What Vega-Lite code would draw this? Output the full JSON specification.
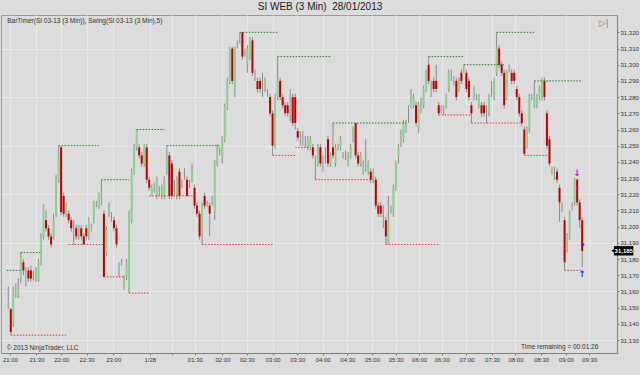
{
  "$schema": "https://vega.github.io/schema/vega-lite/v6.json",
  "width": 616,
  "height": 338,
  "autosize": {"type": "none"},
  "padding": {"left": 1, "top": 15, "right": 23, "bottom": 22},
  "background": "#dcdcdc",
  "title": {"text": "SI WEB (3 Min)\u00a0 28/01/2013", "fontSize": 10, "font": "Liberation Sans", "fontWeight": "normal", "color": "#1a1a1a", "anchor": "middle", "offset": 3, "dx": 11},
  "config": {
    "view": {"stroke": "#9a9a9a", "fill": "#dcdcdc"},
    "axis": {"labelOverlap": false, "labelBound": false, "labelFlush": false, "labelSeparation": 0, "tickCount": 1000,
             "tickColor": "#808080", "tickSize": 2, "domainColor": "#808080", "gridColor": "#e8e8e8",
             "labelFontSize": 6, "labelFont": "Liberation Sans", "labelColor": "#333333", "labelPadding": 1, "title": null}
  },
  "datasets": {
    "bars": [
      {"i":0,"o":31155,"h":31163,"l":31149,"c":31155},
      {"i":1,"o":31149,"h":31150,"l":31133,"c":31135},
      {"i":2,"o":31140,"h":31163,"l":31138,"c":31158},
      {"i":3,"o":31160,"h":31165,"l":31156,"c":31160},
      {"i":4,"o":31158,"h":31168,"l":31156,"c":31163},
      {"i":5,"o":31168,"h":31184,"l":31165,"c":31182},
      {"i":6,"o":31178,"h":31180,"l":31170,"c":31173},
      {"i":7,"o":31172,"h":31175,"l":31163,"c":31172},
      {"i":8,"o":31173,"h":31175,"l":31166,"c":31168},
      {"i":9,"o":31173,"h":31176,"l":31166,"c":31168},
      {"i":10,"o":31170,"h":31173,"l":31167,"c":31170},
      {"i":11,"o":31168,"h":31175,"l":31166,"c":31173},
      {"i":12,"o":31168,"h":31180,"l":31166,"c":31178},
      {"i":13,"o":31178,"h":31196,"l":31176,"c":31194},
      {"i":14,"o":31194,"h":31214,"l":31192,"c":31213},
      {"i":15,"o":31204,"h":31210,"l":31197,"c":31199},
      {"i":16,"o":31199,"h":31201,"l":31192,"c":31194},
      {"i":17,"o":31194,"h":31196,"l":31187,"c":31189},
      {"i":18,"o":31194,"h":31208,"l":31192,"c":31204},
      {"i":19,"o":31208,"h":31232,"l":31206,"c":31229},
      {"i":20,"o":31229,"h":31250,"l":31227,"c":31245},
      {"i":21,"o":31249,"h":31250,"l":31207,"c":31209},
      {"i":22,"o":31219,"h":31221,"l":31206,"c":31208},
      {"i":23,"o":31208,"h":31215,"l":31206,"c":31213},
      {"i":24,"o":31208,"h":31210,"l":31202,"c":31204},
      {"i":25,"o":31204,"h":31206,"l":31197,"c":31199},
      {"i":26,"o":31200,"h":31204,"l":31189,"c":31200},
      {"i":27,"o":31199,"h":31201,"l":31192,"c":31194},
      {"i":28,"o":31194,"h":31201,"l":31192,"c":31199},
      {"i":29,"o":31199,"h":31201,"l":31192,"c":31194},
      {"i":30,"o":31194,"h":31196,"l":31189,"c":31189},
      {"i":31,"o":31199,"h":31201,"l":31192,"c":31194},
      {"i":32,"o":31194,"h":31206,"l":31192,"c":31204},
      {"i":33,"o":31199,"h":31202,"l":31197,"c":31199},
      {"i":34,"o":31204,"h":31216,"l":31202,"c":31214},
      {"i":35,"o":31214,"h":31216,"l":31212,"c":31214},
      {"i":36,"o":31213,"h":31221,"l":31211,"c":31219},
      {"i":37,"o":31215,"h":31229,"l":31213,"c":31215},
      {"i":38,"o":31208,"h":31210,"l":31169,"c":31169},
      {"i":39,"o":31184,"h":31200,"l":31182,"c":31198},
      {"i":40,"o":31208,"h":31215,"l":31206,"c":31213},
      {"i":41,"o":31206,"h":31209,"l":31203,"c":31206},
      {"i":42,"o":31204,"h":31206,"l":31197,"c":31199},
      {"i":43,"o":31199,"h":31201,"l":31187,"c":31189},
      {"i":44,"o":31175,"h":31178,"l":31169,"c":31175},
      {"i":45,"o":31178,"h":31180,"l":31176,"c":31178},
      {"i":46,"o":31163,"h":31170,"l":31161,"c":31168},
      {"i":47,"o":31169,"h":31180,"l":31167,"c":31178},
      {"i":48,"o":31159,"h":31210,"l":31159,"c":31208},
      {"i":49,"o":31204,"h":31236,"l":31202,"c":31234},
      {"i":50,"o":31234,"h":31251,"l":31232,"c":31249},
      {"i":51,"o":31249,"h":31260,"l":31247,"c":31260},
      {"i":52,"o":31249,"h":31251,"l":31242,"c":31244},
      {"i":53,"o":31244,"h":31246,"l":31237,"c":31239},
      {"i":54,"o":31239,"h":31251,"l":31237,"c":31249},
      {"i":55,"o":31249,"h":31251,"l":31227,"c":31229},
      {"i":56,"o":31229,"h":31231,"l":31222,"c":31224},
      {"i":57,"o":31219,"h":31226,"l":31219,"c":31224},
      {"i":58,"o":31224,"h":31227,"l":31221,"c":31224},
      {"i":59,"o":31219,"h":31231,"l":31217,"c":31229},
      {"i":60,"o":31222,"h":31225,"l":31219,"c":31222},
      {"i":61,"o":31219,"h":31226,"l":31217,"c":31224},
      {"i":62,"o":31219,"h":31231,"l":31217,"c":31229},
      {"i":63,"o":31234,"h":31250,"l":31232,"c":31244},
      {"i":64,"o":31244,"h":31246,"l":31217,"c":31219},
      {"i":65,"o":31239,"h":31241,"l":31217,"c":31219},
      {"i":66,"o":31224,"h":31229,"l":31219,"c":31224},
      {"i":67,"o":31219,"h":31231,"l":31217,"c":31229},
      {"i":68,"o":31234,"h":31236,"l":31217,"c":31219},
      {"i":69,"o":31227,"h":31229,"l":31224,"c":31227},
      {"i":70,"o":31234,"h":31236,"l":31229,"c":31234},
      {"i":71,"o":31229,"h":31231,"l":31219,"c":31219},
      {"i":72,"o":31227,"h":31229,"l":31224,"c":31227},
      {"i":73,"o":31229,"h":31239,"l":31227,"c":31234},
      {"i":74,"o":31224,"h":31226,"l":31211,"c":31213},
      {"i":75,"o":31213,"h":31215,"l":31206,"c":31208},
      {"i":76,"o":31208,"h":31210,"l":31192,"c":31194},
      {"i":77,"o":31199,"h":31215,"l":31189,"c":31213},
      {"i":78,"o":31219,"h":31221,"l":31211,"c":31213},
      {"i":79,"o":31214,"h":31216,"l":31212,"c":31214},
      {"i":80,"o":31213,"h":31215,"l":31194,"c":31208},
      {"i":81,"o":31216,"h":31219,"l":31213,"c":31216},
      {"i":82,"o":31208,"h":31241,"l":31204,"c":31239},
      {"i":83,"o":31239,"h":31251,"l":31237,"c":31249},
      {"i":84,"o":31247,"h":31249,"l":31244,"c":31247},
      {"i":85,"o":31244,"h":31256,"l":31239,"c":31254},
      {"i":86,"o":31254,"h":31276,"l":31252,"c":31274},
      {"i":87,"o":31274,"h":31292,"l":31272,"c":31290},
      {"i":88,"o":31290,"h":31311,"l":31288,"c":31310},
      {"i":89,"o":31310,"h":31311,"l":31288,"c":31290},
      {"i":90,"o":31285,"h":31311,"l":31280,"c":31310},
      {"i":91,"o":31312,"h":31315,"l":31310,"c":31312},
      {"i":92,"o":31316,"h":31320,"l":31313,"c":31316},
      {"i":93,"o":31320,"h":31320,"l":31303,"c":31305},
      {"i":94,"o":31307,"h":31310,"l":31305,"c":31307},
      {"i":95,"o":31300,"h":31312,"l":31295,"c":31310},
      {"i":96,"o":31305,"h":31317,"l":31303,"c":31315},
      {"i":97,"o":31315,"h":31317,"l":31293,"c":31295},
      {"i":98,"o":31293,"h":31297,"l":31290,"c":31293},
      {"i":99,"o":31290,"h":31292,"l":31283,"c":31285},
      {"i":100,"o":31290,"h":31292,"l":31283,"c":31285},
      {"i":101,"o":31288,"h":31295,"l":31280,"c":31288},
      {"i":102,"o":31285,"h":31292,"l":31283,"c":31290},
      {"i":103,"o":31282,"h":31285,"l":31280,"c":31282},
      {"i":104,"o":31280,"h":31282,"l":31268,"c":31270},
      {"i":105,"o":31270,"h":31272,"l":31244,"c":31250},
      {"i":106,"o":31250,"h":31282,"l":31248,"c":31280},
      {"i":107,"o":31280,"h":31305,"l":31278,"c":31290},
      {"i":108,"o":31290,"h":31292,"l":31278,"c":31280},
      {"i":109,"o":31280,"h":31282,"l":31273,"c":31275},
      {"i":110,"o":31275,"h":31277,"l":31268,"c":31270},
      {"i":111,"o":31275,"h":31277,"l":31268,"c":31270},
      {"i":112,"o":31270,"h":31285,"l":31265,"c":31270},
      {"i":113,"o":31280,"h":31282,"l":31262,"c":31264},
      {"i":114,"o":31280,"h":31282,"l":31260,"c":31264},
      {"i":115,"o":31259,"h":31261,"l":31253,"c":31255},
      {"i":116,"o":31255,"h":31259,"l":31250,"c":31255},
      {"i":117,"o":31255,"h":31259,"l":31250,"c":31255},
      {"i":118,"o":31252,"h":31256,"l":31249,"c":31252},
      {"i":119,"o":31249,"h":31256,"l":31247,"c":31254},
      {"i":120,"o":31249,"h":31256,"l":31247,"c":31254},
      {"i":121,"o":31249,"h":31251,"l":31242,"c":31244},
      {"i":122,"o":31240,"h":31244,"l":31229,"c":31240},
      {"i":123,"o":31239,"h":31251,"l":31237,"c":31249},
      {"i":124,"o":31249,"h":31251,"l":31237,"c":31239},
      {"i":125,"o":31237,"h":31244,"l":31234,"c":31237},
      {"i":126,"o":31244,"h":31249,"l":31239,"c":31244},
      {"i":127,"o":31254,"h":31256,"l":31237,"c":31239},
      {"i":128,"o":31239,"h":31246,"l":31237,"c":31244},
      {"i":129,"o":31249,"h":31264,"l":31242,"c":31244},
      {"i":130,"o":31239,"h":31251,"l":31237,"c":31249},
      {"i":131,"o":31249,"h":31251,"l":31247,"c":31249},
      {"i":132,"o":31249,"h":31256,"l":31247,"c":31254},
      {"i":133,"o":31244,"h":31246,"l":31242,"c":31244},
      {"i":134,"o":31244,"h":31247,"l":31241,"c":31244},
      {"i":135,"o":31239,"h":31246,"l":31237,"c":31244},
      {"i":136,"o":31244,"h":31251,"l":31242,"c":31249},
      {"i":137,"o":31254,"h":31262,"l":31252,"c":31260},
      {"i":138,"o":31264,"h":31264,"l":31242,"c":31244},
      {"i":139,"o":31244,"h":31246,"l":31237,"c":31239},
      {"i":140,"o":31239,"h":31246,"l":31237,"c":31244},
      {"i":141,"o":31234,"h":31241,"l":31232,"c":31239},
      {"i":142,"o":31237,"h":31254,"l":31234,"c":31237},
      {"i":143,"o":31234,"h":31241,"l":31232,"c":31239},
      {"i":144,"o":31234,"h":31236,"l":31227,"c":31229},
      {"i":145,"o":31229,"h":31236,"l":31227,"c":31234},
      {"i":146,"o":31229,"h":31231,"l":31211,"c":31213},
      {"i":147,"o":31213,"h":31215,"l":31206,"c":31208},
      {"i":148,"o":31213,"h":31215,"l":31206,"c":31208},
      {"i":149,"o":31204,"h":31213,"l":31199,"c":31204},
      {"i":150,"o":31204,"h":31206,"l":31189,"c":31194},
      {"i":151,"o":31189,"h":31219,"l":31189,"c":31204},
      {"i":152,"o":31210,"h":31213,"l":31208,"c":31210},
      {"i":153,"o":31208,"h":31226,"l":31206,"c":31224},
      {"i":154,"o":31224,"h":31241,"l":31222,"c":31239},
      {"i":155,"o":31244,"h":31251,"l":31239,"c":31249},
      {"i":156,"o":31255,"h":31260,"l":31249,"c":31255},
      {"i":157,"o":31254,"h":31266,"l":31252,"c":31264},
      {"i":158,"o":31260,"h":31266,"l":31258,"c":31264},
      {"i":159,"o":31270,"h":31275,"l":31264,"c":31270},
      {"i":160,"o":31275,"h":31285,"l":31273,"c":31280},
      {"i":161,"o":31275,"h":31282,"l":31273,"c":31280},
      {"i":162,"o":31275,"h":31277,"l":31262,"c":31264},
      {"i":163,"o":31260,"h":31277,"l":31258,"c":31275},
      {"i":164,"o":31275,"h":31280,"l":31270,"c":31275},
      {"i":165,"o":31275,"h":31287,"l":31273,"c":31285},
      {"i":166,"o":31285,"h":31297,"l":31283,"c":31295},
      {"i":167,"o":31300,"h":31305,"l":31288,"c":31290},
      {"i":168,"o":31285,"h":31290,"l":31280,"c":31285},
      {"i":169,"o":31290,"h":31292,"l":31283,"c":31285},
      {"i":170,"o":31290,"h":31300,"l":31283,"c":31285},
      {"i":171,"o":31275,"h":31277,"l":31269,"c":31270},
      {"i":172,"o":31272,"h":31275,"l":31270,"c":31272},
      {"i":173,"o":31272,"h":31275,"l":31269,"c":31272},
      {"i":174,"o":31275,"h":31282,"l":31273,"c":31280},
      {"i":175,"o":31285,"h":31297,"l":31283,"c":31295},
      {"i":176,"o":31292,"h":31297,"l":31290,"c":31292},
      {"i":177,"o":31290,"h":31293,"l":31287,"c":31290},
      {"i":178,"o":31290,"h":31292,"l":31278,"c":31280},
      {"i":179,"o":31285,"h":31292,"l":31283,"c":31290},
      {"i":180,"o":31295,"h":31297,"l":31288,"c":31290},
      {"i":181,"o":31298,"h":31300,"l":31295,"c":31298},
      {"i":182,"o":31295,"h":31297,"l":31283,"c":31285},
      {"i":183,"o":31290,"h":31292,"l":31278,"c":31280},
      {"i":184,"o":31275,"h":31277,"l":31264,"c":31270},
      {"i":185,"o":31280,"h":31287,"l":31278,"c":31285},
      {"i":186,"o":31280,"h":31282,"l":31278,"c":31280},
      {"i":187,"o":31275,"h":31282,"l":31273,"c":31280},
      {"i":188,"o":31275,"h":31277,"l":31268,"c":31270},
      {"i":189,"o":31275,"h":31277,"l":31268,"c":31270},
      {"i":190,"o":31270,"h":31275,"l":31264,"c":31270},
      {"i":191,"o":31270,"h":31282,"l":31268,"c":31280},
      {"i":192,"o":31285,"h":31290,"l":31280,"c":31285},
      {"i":193,"o":31280,"h":31292,"l":31278,"c":31290},
      {"i":194,"o":31295,"h":31320,"l":31293,"c":31310},
      {"i":195,"o":31310,"h":31312,"l":31298,"c":31300},
      {"i":196,"o":31300,"h":31302,"l":31293,"c":31295},
      {"i":197,"o":31295,"h":31297,"l":31273,"c":31275},
      {"i":198,"o":31280,"h":31297,"l":31278,"c":31295},
      {"i":199,"o":31298,"h":31300,"l":31295,"c":31298},
      {"i":200,"o":31295,"h":31297,"l":31288,"c":31290},
      {"i":201,"o":31295,"h":31297,"l":31288,"c":31290},
      {"i":202,"o":31285,"h":31287,"l":31278,"c":31280},
      {"i":203,"o":31280,"h":31282,"l":31268,"c":31270},
      {"i":204,"o":31270,"h":31272,"l":31262,"c":31264},
      {"i":205,"o":31260,"h":31262,"l":31244,"c":31245},
      {"i":206,"o":31250,"h":31262,"l":31248,"c":31260},
      {"i":207,"o":31260,"h":31282,"l":31258,"c":31280},
      {"i":208,"o":31280,"h":31282,"l":31278,"c":31280},
      {"i":209,"o":31275,"h":31290,"l":31273,"c":31280},
      {"i":210,"o":31275,"h":31282,"l":31273,"c":31280},
      {"i":211,"o":31280,"h":31287,"l":31278,"c":31285},
      {"i":212,"o":31280,"h":31292,"l":31278,"c":31290},
      {"i":213,"o":31290,"h":31292,"l":31278,"c":31280},
      {"i":214,"o":31270,"h":31272,"l":31248,"c":31250},
      {"i":215,"o":31254,"h":31256,"l":31237,"c":31239},
      {"i":216,"o":31235,"h":31237,"l":31232,"c":31235},
      {"i":217,"o":31232,"h":31237,"l":31229,"c":31232},
      {"i":218,"o":31234,"h":31236,"l":31227,"c":31229},
      {"i":219,"o":31224,"h":31226,"l":31203,"c":31215},
      {"i":220,"o":31212,"h":31215,"l":31209,"c":31212},
      {"i":221,"o":31204,"h":31206,"l":31173,"c":31178},
      {"i":222,"o":31189,"h":31196,"l":31184,"c":31194},
      {"i":223,"o":31194,"h":31210,"l":31192,"c":31208},
      {"i":224,"o":31212,"h":31215,"l":31210,"c":31212},
      {"i":225,"o":31215,"h":31230,"l":31213,"c":31229},
      {"i":226,"o":31229,"h":31230,"l":31213,"c":31215},
      {"i":227,"o":31215,"h":31217,"l":31199,"c":31204},
      {"i":228,"o":31204,"h":31206,"l":31175,"c":31185}
    ],
    "hi": [
      {"a":-0.6,"b":5,"p":31173},{"a":5,"b":13,"p":31184},{"a":20,"b":36,"p":31250},{"a":37,"b":48,"p":31229},
      {"a":51,"b":62,"p":31260},{"a":63,"b":84,"p":31250},{"a":92,"b":107,"p":31320},{"a":107,"b":128,"p":31305},
      {"a":129,"b":158,"p":31264},{"a":167,"b":181,"p":31305},{"a":181,"b":197,"p":31300},{"a":194,"b":209,"p":31320},
      {"a":209,"b":228,"p":31290}
    ],
    "lo": [
      {"a":1,"b":23,"p":31133},{"a":24,"b":38,"p":31189},{"a":38,"b":46,"p":31169},{"a":48,"b":56,"p":31159},
      {"a":56,"b":74,"p":31219},{"a":77,"b":105,"p":31189},{"a":105,"b":114,"p":31244},{"a":114,"b":120,"p":31249},
      {"a":122,"b":145,"p":31229},{"a":150,"b":171,"p":31189},{"a":171,"b":184,"p":31269},{"a":184,"b":204,"p":31264},
      {"a":205,"b":215,"p":31244},{"a":221,"b":228,"p":31173}
    ]
  },
  "layer": [
    {
      "data": {"name": "bars"},
      "mark": {"type": "rule", "color": "#8c8c8c", "strokeWidth": 1},
      "encoding": {
        "x": {"field": "i", "type": "quantitative", "title": null,
              "scale": {"domain": [-0.9, 239.84], "nice": false, "zero": false},
              "axis": {"title": null, "grid": true, "labelOverlap": false, "tickCount": 1000,
                       "values": [0.66, 11.2, 21, 31.1, 41.7, 56.2, 65.1, 74.1, 85.1, 94.8, 105, 114.8, 124.9, 134.7, 144.5, 153.9, 163.2, 172.2, 182, 192.2, 201.5, 211.7, 221.5, 230.8],
                       "labelExpr": "['21:00','21:30','22:00','22:30','23:00','1/28','','01:30','02:00','02:30','03:00','03:30','04:00','04:30','05:00','05:30','06:00','06:30','07:00','07:30','08:00','08:30','09:00','09:30'][indexof([0.66, 11.2, 21, 31.1, 41.7, 56.2, 65.1, 74.1, 85.1, 94.8, 105, 114.8, 124.9, 134.7, 144.5, 153.9, 163.2, 172.2, 182, 192.2, 201.5, 211.7, 221.5, 230.8], datum.value)]"}},
        "y": {"field": "l", "type": "quantitative", "title": null,
              "scale": {"domain": [31122.0, 31330.7], "nice": false, "zero": false},
              "axis": {"title": null, "orient": "right", "format": ",d", "labelOverlap": false, "tickCount": 1000,
                       "values": [31130,31140,31150,31160,31170,31180,31190,31200,31210,31220,31230,31240,31250,31260,31270,31280,31290,31300,31310,31320],
                       "grid": true,
                       "gridOpacity": {"condition": {"test": "datum.value % 30 === 20", "value": 1}, "value": 0}}},
        "y2": {"field": "h"}
      }
    },
    {
      "data": {"name": "bars"},
      "mark": {"type": "bar", "size": 2},
      "encoding": {
        "x": {"field": "i", "type": "quantitative", "title": null},
        "y": {"field": "o", "type": "quantitative", "title": null},
        "y2": {"field": "c"},
        "color": {"condition": [{"test": "datum.c > datum.o", "value": "#8fcf8f"}, {"test": "datum.c < datum.o", "value": "#c00000"}], "value": "#8c8c8c"}
      }
    },
    {
      "data": {"name": "hi"},
      "mark": {"type": "rule", "color": "#2a7a2a", "strokeWidth": 1, "strokeDash": [1.5, 1.5]},
      "encoding": {
        "x": {"field": "a", "type": "quantitative", "title": null},
        "x2": {"field": "b"},
        "y": {"field": "p", "type": "quantitative", "title": null}
      }
    },
    {
      "data": {"name": "lo"},
      "mark": {"type": "rule", "color": "#e03a3a", "strokeWidth": 1, "strokeDash": [1.5, 1.5]},
      "encoding": {
        "x": {"field": "a", "type": "quantitative", "title": null},
        "x2": {"field": "b"},
        "y": {"field": "p", "type": "quantitative", "title": null}
      }
    },
    {
      "data": {"values": [{"i": 226, "p": 31233}]},
      "mark": {"type": "text", "text": "↓", "fontSize": 9, "fontWeight": "bold", "color": "#e000e0", "baseline": "middle", "font": "DejaVu Sans"},
      "encoding": {"x": {"field": "i", "type": "quantitative", "title": null}, "y": {"field": "p", "type": "quantitative", "title": null}}
    },
    {
      "data": {"values": [{"i": 228, "p": 31171}]},
      "mark": {"type": "text", "text": "↑", "fontSize": 9, "fontWeight": "bold", "color": "#2030e0", "baseline": "middle", "font": "DejaVu Sans"},
      "encoding": {"x": {"field": "i", "type": "quantitative", "title": null}, "y": {"field": "p", "type": "quantitative", "title": null}}
    },
    {
      "data": {"values": [{"i": 226, "p": 31224}]},
      "mark": {"type": "point", "shape": "square", "filled": true, "size": 5, "color": "#e000e0", "opacity": 1},
      "encoding": {"x": {"field": "i", "type": "quantitative", "title": null}, "y": {"field": "p", "type": "quantitative", "title": null}}
    },
    {
      "data": {"values": [{"i": 228.4, "p": 31189}]},
      "mark": {"type": "point", "shape": "square", "filled": true, "size": 5, "color": "#2030e0", "opacity": 1},
      "encoding": {"x": {"field": "i", "type": "quantitative", "title": null}, "y": {"field": "p", "type": "quantitative", "title": null}}
    },
    {
      "data": {"values": [{}]},
      "mark": {"type": "text", "align": "left", "baseline": "middle", "fontSize": 6.5, "font": "Liberation Sans", "color": "#333333"},
      "encoding": {"x": {"datum": -0.4, "type": "quantitative", "title": null}, "y": {"datum": 31327, "type": "quantitative", "title": null},
                   "text": {"value": "BarTimer(SI 03-13 (3 Min)), Swing(SI 03-13 (3 Min),5)"}}
    },
    {
      "data": {"values": [{}]},
      "mark": {"type": "text", "align": "left", "baseline": "middle", "fontSize": 6.5, "font": "Liberation Sans", "color": "#333333"},
      "encoding": {"x": {"datum": -0.6, "type": "quantitative", "title": null}, "y": {"datum": 31125, "type": "quantitative", "title": null},
                   "text": {"value": "© 2013 NinjaTrader, LLC"}}
    },
    {
      "data": {"values": [{}]},
      "mark": {"type": "text", "align": "right", "baseline": "middle", "fontSize": 6.5, "font": "Liberation Sans", "color": "#333333"},
      "encoding": {"x": {"datum": 234.4, "type": "quantitative", "title": null}, "y": {"datum": 31125.5, "type": "quantitative", "title": null},
                   "text": {"value": "Time remaining = 00:01:26"}}
    },
    {
      "data": {"values": [{}]},
      "mark": {"type": "text", "align": "center", "baseline": "middle", "fontSize": 9, "font": "DejaVu Sans", "color": "#8a8a8a"},
      "encoding": {"x": {"datum": 236.6, "type": "quantitative", "title": null}, "y": {"datum": 31326, "type": "quantitative", "title": null},
                   "text": {"value": "▷|"}}
    },
    {
      "data": {"values": [{}]},
      "mark": {"type": "rect", "color": "#000000"},
      "encoding": {"x": {"datum": 240.6, "type": "quantitative", "title": null}, "x2": {"datum": 248.3},
                   "y": {"datum": 31188.0, "type": "quantitative", "title": null}, "y2": {"datum": 31182.2}}
    },
    {
      "data": {"values": [{}]},
      "mark": {"type": "point", "shape": "triangle-left", "filled": true, "size": 20, "color": "#000000", "opacity": 1},
      "encoding": {"x": {"datum": 240.3, "type": "quantitative", "title": null}, "y": {"datum": 31185.1, "type": "quantitative", "title": null}}
    },
    {
      "data": {"values": [{}]},
      "mark": {"type": "text", "align": "center", "baseline": "middle", "fontSize": 6, "fontWeight": "bold", "font": "Liberation Sans", "color": "#ffffff"},
      "encoding": {"x": {"datum": 244.5, "type": "quantitative", "title": null}, "y": {"datum": 31185.1, "type": "quantitative", "title": null},
                   "text": {"value": "31,185"}}
    }
  ]
}
